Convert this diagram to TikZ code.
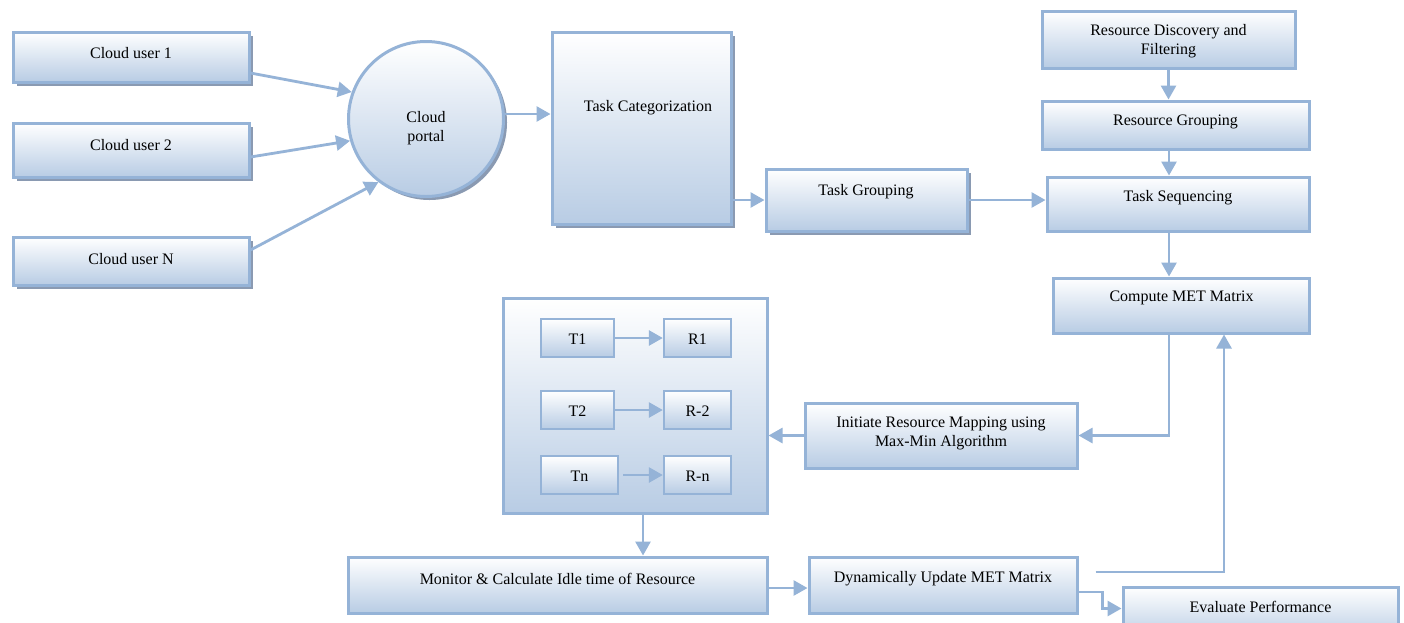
\documentclass[tikz,border=0pt]{standalone}
\usepackage{fontspec}
\setmainfont{Liberation Serif}
\usetikzlibrary{arrows.meta,shadows,calc,positioning}
\definecolor{bord}{HTML}{95B3D7}
\definecolor{fillb}{HTML}{B8CCE4}
\definecolor{shad}{HTML}{8A9AB2}
\begin{document}
\begin{tikzpicture}[x=1pt,y=-1pt,
  box/.style={draw=bord, line width=3pt, top color=white, bottom color=fillb, rectangle, inner sep=0pt},
  smallbox/.style={box, line width=2.4pt},
  shadowed/.style={drop shadow={shadow xshift=3.5pt, shadow yshift=-3.5pt, fill=shad, opacity=1}},
  txt/.style={font=\fontsize{16}{18.5}\selectfont, align=center, inner sep=0pt},
  arr/.style={draw=bord, line width=2.8pt, -{Triangle[length=14pt,width=15pt]}},
]
\clip (0,0) rectangle (1404,622);
\fill[white] (0,0) rectangle (1404,622);

% cloud users
\node[box, shadowed, minimum width=236pt, minimum height=50pt] (u1) at (131,57) {};
\node[txt] (u1t) at (131,53) {Cloud user 1};
\node[box, shadowed, minimum width=236pt, minimum height=54pt] (u2) at (131,150) {};
\node[txt] (u2t) at (131,145) {Cloud user 2};
\node[box, shadowed, minimum width=236pt, minimum height=48pt] (uN) at (131,261) {};
\node[txt] (uNt) at (131,259) {Cloud user N};

% cloud portal
\node[box, circle, shadowed, minimum size=155pt] (cp) at (426,119) {};
\node[txt] (cpt) at (426,128) {Cloud\\portal};

% task categorization
\node[box, shadowed, minimum width=179pt, minimum height=192pt] (tc) at (641.5,128) {};
\node[txt] (tct) at (648,108) {Task Categorization};

% task grouping
\node[box, shadowed, minimum width=201pt, minimum height=62pt] (tg) at (866.5,200) {};
\node[txt] (tgt) at (866,192) {Task Grouping};

% right column
\node[box, minimum width=253pt, minimum height=57pt] (rd) at (1168.5,39.5) {};
\node[txt] (rdt) at (1168.5,41) {Resource Discovery and\\Filtering};
\node[box, minimum width=267pt, minimum height=48pt] (rg) at (1175.5,125) {};
\node[txt] (rgt) at (1175.5,122) {Resource Grouping};
\node[box, minimum width=262pt, minimum height=54pt] (ts) at (1178,204) {};
\node[txt] (tst) at (1178,198) {Task Sequencing};
\node[box, minimum width=256pt, minimum height=55pt] (cm) at (1181,305.5) {};
\node[txt] (cmt) at (1181.5,298) {Compute MET Matrix};

% initiate
\node[box, minimum width=272pt, minimum height=65pt] (im) at (941,435.5) {};
\node[txt] (imt) at (941,433.5) {Initiate Resource Mapping using\\Max-Min Algorithm};

% big mapping box
\node[box, minimum width=264pt, minimum height=215pt] (big) at (635,405.5) {};
\node[smallbox, minimum width=73pt, minimum height=38pt] (t1) at (577.5,338) {};
\node[txt] (t1t) at (577.5,339) {T1};
\node[smallbox, minimum width=67pt, minimum height=38pt] (r1) at (697.5,338) {};
\node[txt] (r1t) at (697.5,339) {R1};
\node[smallbox, minimum width=73pt, minimum height=38pt] (t2) at (577.5,410) {};
\node[txt] (t2t) at (577.5,411) {T2};
\node[smallbox, minimum width=67pt, minimum height=38pt] (r2) at (697.5,410) {};
\node[txt] (r2t) at (697.5,411) {R-2};
\node[smallbox, minimum width=77pt, minimum height=38pt] (tn) at (579.5,475) {};
\node[txt] (tnt) at (579.5,476) {Tn};
\node[smallbox, minimum width=67pt, minimum height=38pt] (rn) at (697.5,475) {};
\node[txt] (rnt) at (697.5,476) {R-n};

% bottom row
\node[box, minimum width=419pt, minimum height=56pt] (mo) at (557.5,585) {};
\node[txt] (mot) at (557.5,579) {Monitor \& Calculate Idle time of Resource};
\node[box, minimum width=268pt, minimum height=56pt] (du) at (943,585) {};
\node[txt] (dut) at (943,579) {Dynamically Update MET Matrix};
\node[box, minimum width=275pt, minimum height=53pt] (ev) at (1260.5,613.5) {};
\node[txt] (evt) at (1260.5,607) {Evaluate Performance};

% connectors
\draw[arr] ($(u1.east)+(0,16)$) -- (cp.160);
\draw[arr] ($(u2.east)+(0,7)$) -- (cp.196);
\draw[arr] ($(uN.east)+(0,-11)$) -- (cp.233);
\coordinate (a1) at ($(cp.east)+(0,-5)$);
\draw[arr] (a1) -- (a1 -| tc.west);
\draw[arr] (tc.east |- tg.west) -- (tg.west);
\draw[arr] (tg.east) -- (tg.east -| ts.west);
\draw[arr] (rd.south) -- (rd.south |- rg.north);
\coordinate (cx) at ($(rd.south)+(0.5,0)$);
\draw[arr] (cx |- rg.south) -- (cx |- ts.north);
\draw[arr] (cx |- ts.south) -- (cx |- cm.north);
\draw[arr] (cx |- cm.south) |- (im.east);
\draw[arr] (im.west) -- (im.west -| big.east);
\draw[arr] (t1.east) -- (r1.west);
\draw[arr] (t2.east) -- (r2.west);
\draw[arr, shorten <=4pt] (tn.east) -- (rn.west);
\coordinate (bx) at ($(big.south)+(8,0)$);
\draw[arr] (bx) -- (bx |- mo.north);
\draw[arr] (mo.east |- 0,588) -- (du.west |- 0,588);
\draw[arr] ($(du.east)+(17,-13)$) -| ($(cm.south)+(43,0)$);
\draw[arr] ($(du.east)+(0,7)$) -- ++(24,0) |- ($(ev.west)+(0,-5)$);
\end{tikzpicture}
\end{document}
